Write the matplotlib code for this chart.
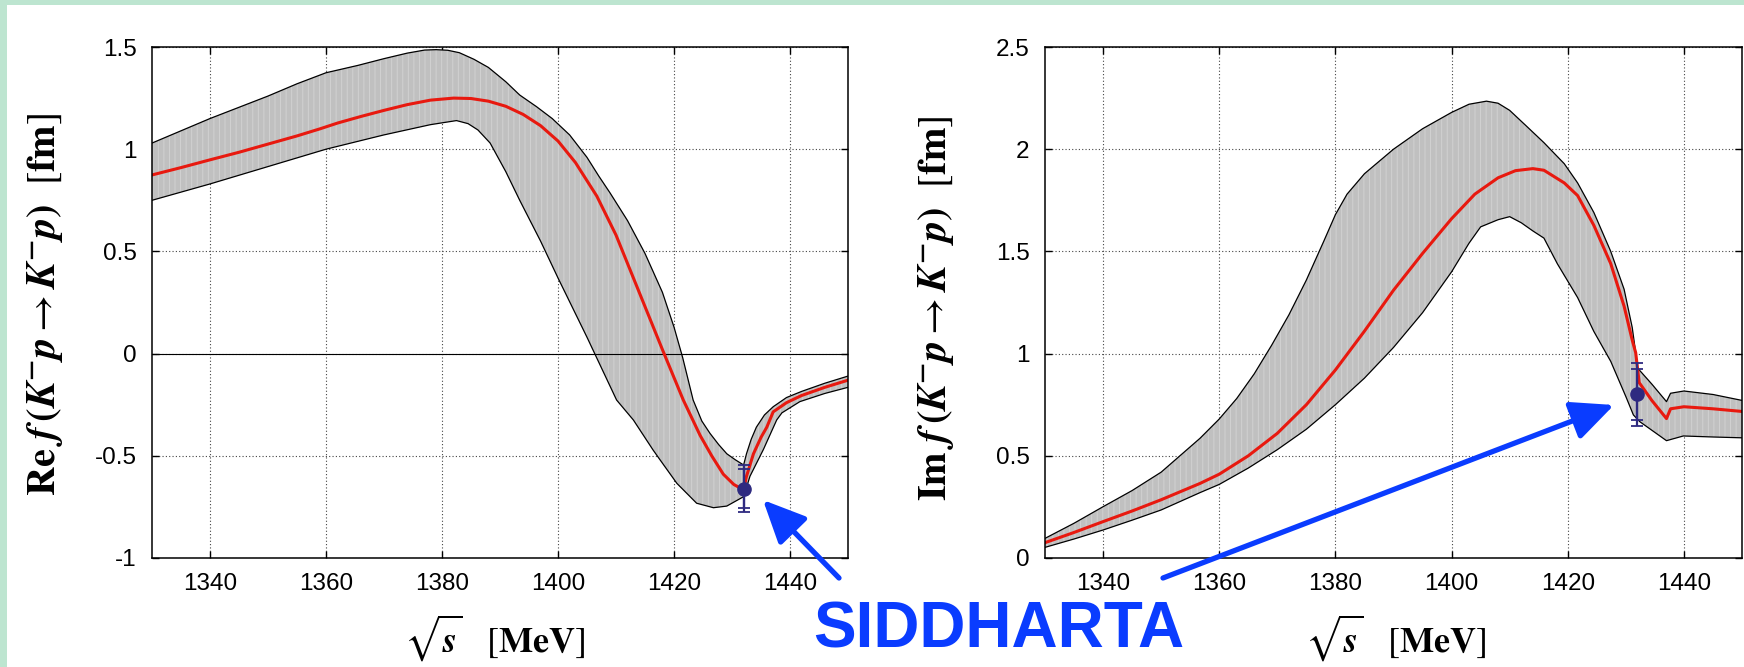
import matplotlib
matplotlib.use("Agg")
import matplotlib.pyplot as plt
from matplotlib.patches import Rectangle, FancyArrowPatch

plt.rcParams['mathtext.fontset'] = 'stix'
plt.rcParams['font.family'] = ['Liberation Sans', 'DejaVu Sans']
plt.rcParams['axes.unicode_minus'] = False
plt.rcParams['hatch.linewidth'] = 0.7

# ---------------- data: Re f ----------------
re_up_x = [1330, 1335, 1340, 1345, 1350, 1355, 1360, 1365.5, 1370, 1374, 1377, 1379, 1381, 1383,
           1385.5, 1388, 1391, 1393.4, 1396.3, 1399, 1402, 1405, 1407, 1409, 1412, 1415, 1418,
           1420, 1421.5, 1423.3, 1424.8, 1426.2, 1427.7, 1429.1, 1430.6, 1432.0, 1432.5, 1433.3,
           1434.2, 1435.6, 1437.1, 1439.4, 1442, 1446, 1450]
re_up_y = [1.03, 1.09, 1.15, 1.205, 1.26, 1.32, 1.374, 1.41, 1.443, 1.47, 1.485, 1.487, 1.484, 1.472,
           1.44, 1.40, 1.33, 1.265, 1.208, 1.15, 1.07, 0.96, 0.87, 0.785, 0.65, 0.49, 0.30,
           0.13, -0.02, -0.227, -0.33, -0.39, -0.445, -0.49, -0.52, -0.545, -0.49, -0.42,
           -0.36, -0.30, -0.26, -0.215, -0.185, -0.145, -0.11]

re_mid_x = [1330, 1335, 1340, 1345, 1350, 1355, 1359, 1362, 1366, 1370, 1374, 1378, 1382, 1385,
            1388, 1391, 1394, 1397, 1400, 1403, 1406.7, 1410, 1414, 1418, 1421.6, 1424.5, 1426.5,
            1428.5, 1430.3, 1432.0, 1432.5, 1433.7, 1435.0, 1436.0, 1437.1, 1439.4, 1442, 1446, 1450]
re_mid_y = [0.874, 0.91, 0.948, 0.985, 1.025, 1.065, 1.10, 1.128, 1.16, 1.19, 1.218, 1.24, 1.25, 1.248,
            1.235, 1.21, 1.17, 1.115, 1.04, 0.935, 0.77, 0.58, 0.30, 0.02, -0.227, -0.40, -0.50,
            -0.59, -0.64, -0.667, -0.60, -0.49, -0.41, -0.36, -0.285, -0.24, -0.205, -0.165, -0.13]

re_lo_x = [1330, 1340, 1350, 1360, 1370, 1378, 1382.5, 1384.5, 1386.2, 1388.3, 1391, 1393.4, 1397,
           1400, 1405, 1410.1, 1413.0, 1416.4, 1417.6, 1420.5, 1423.9, 1426.8, 1429.1, 1432.0,
           1433.1, 1435.4, 1437.7, 1438.6, 1441.7, 1446, 1450]
re_lo_y = [0.75, 0.83, 0.915, 1.0, 1.07, 1.12, 1.14, 1.125, 1.094, 1.03, 0.89, 0.75, 0.55,
           0.37, 0.08, -0.227, -0.325, -0.472, -0.52, -0.635, -0.732, -0.754, -0.746, -0.70,
           -0.60, -0.47, -0.325, -0.29, -0.235, -0.195, -0.165]

# ---------------- data: Im f ----------------
im_up_x = [1330, 1335, 1340, 1345, 1350, 1356.7, 1360, 1363, 1366, 1369, 1372, 1375, 1378, 1380,
           1382, 1385, 1390, 1395, 1400, 1403, 1406, 1408, 1410, 1413, 1415.9, 1419.4, 1421.7,
           1424.5, 1427.4, 1429.7, 1431.1, 1431.7, 1432.0, 1434.5, 1437.0, 1437.7, 1440, 1445, 1450]
im_up_y = [0.096, 0.17, 0.251, 0.33, 0.42, 0.586, 0.68, 0.78, 0.90, 1.04, 1.19, 1.36, 1.55, 1.68,
           1.78, 1.88, 2.0, 2.1, 2.18, 2.22, 2.235, 2.225, 2.19, 2.11, 2.032, 1.929, 1.835,
           1.69, 1.50, 1.315, 1.128, 1.004, 0.93, 0.85, 0.765, 0.806, 0.817, 0.80, 0.771]

im_mid_x = [1330, 1335, 1340, 1345, 1350, 1356.7, 1360, 1365, 1370, 1375, 1380, 1385, 1390, 1395,
            1400, 1404, 1408, 1411, 1414, 1415.9, 1419.4, 1421.7, 1424.5, 1427.4, 1429.7, 1431.1,
            1431.7, 1432.3, 1434.5, 1437.0, 1437.7, 1440, 1445, 1450]
im_mid_y = [0.075, 0.125, 0.178, 0.23, 0.285, 0.365, 0.41, 0.50, 0.61, 0.75, 0.92, 1.11, 1.31, 1.49,
            1.66, 1.78, 1.86, 1.895, 1.905, 1.897, 1.835, 1.773, 1.627, 1.44, 1.232, 1.066,
            1.004, 0.858, 0.77, 0.682, 0.73, 0.74, 0.73, 0.717]

im_lo_x = [1330, 1335, 1340, 1345, 1350, 1356.7, 1360, 1365, 1370, 1375, 1380, 1385, 1390, 1395,
           1400, 1403, 1405, 1408, 1410, 1412, 1414, 1415.9, 1418.2, 1421.7, 1424.5, 1427.4,
           1430.0, 1431.3, 1432.4, 1437.0, 1439.9, 1445, 1450]
im_lo_y = [0.052, 0.093, 0.137, 0.185, 0.235, 0.32, 0.36, 0.44, 0.53, 0.63, 0.75, 0.88, 1.03, 1.2,
           1.4, 1.54, 1.62, 1.655, 1.67, 1.64, 1.6, 1.565, 1.44, 1.274, 1.108, 0.962,
           0.79, 0.70, 0.667, 0.574, 0.597, 0.592, 0.588]

# SIDDHARTA point (energy, value, two error sizes)
pt_x = 1432.0
re_pt, re_err_a, re_err_b = -0.66, 0.114, 0.095
im_pt, im_err_a, im_err_b = 0.80, 0.152, 0.124

x_ticks = [1340, 1360, 1380, 1400, 1420, 1440]
re_ticks = [-1, -0.5, 0, 0.5, 1, 1.5]
re_tick_labels = ['-1', '-0.5', '0', '0.5', '1', '1.5']
im_ticks = [0, 0.5, 1, 1.5, 2, 2.5]
im_tick_labels = ['0', '0.5', '1', '1.5', '2', '2.5']

# ---------------- figure ----------------
W, H = 1744, 667
fig = plt.figure(figsize=(W / 100, H / 100), dpi=100)
fig.patch.set_facecolor('white')
green = '#bde5d0'
fig.patches.append(Rectangle((0, 1 - 5 / H), 1, 5 / H, transform=fig.transFigure,
                             facecolor=green, edgecolor='none', zorder=0))
fig.patches.append(Rectangle((0, 0), 7 / W, 1, transform=fig.transFigure,
                             facecolor=green, edgecolor='none', zorder=0))

ax_bottom = (H - 558) / H
ax_height = 511 / H
ax1 = fig.add_axes([152 / W, ax_bottom, 696 / W, ax_height])
ax2 = fig.add_axes([1045 / W, ax_bottom, 697 / W, ax_height])

band_col = '#c0c0c0'
stripe_col = '#d2d2d2'
red = '#e8190f'
navy = '#2e2a80'


def draw(ax, ux, uy, mx, my, lx, ly, pt, ea, eb, yticks, ylabels, ylim):
    ax.fill(ux + lx[::-1], uy + ly[::-1], facecolor=band_col, edgecolor=stripe_col,
            hatch='|||', lw=0, zorder=1)
    ax.plot(ux, uy, color='black', lw=0.9, zorder=2)
    ax.plot(lx, ly, color='black', lw=0.9, zorder=2)
    ax.plot(mx, my, color=red, lw=2.2, zorder=3)
    ax.errorbar([pt_x], [pt], yerr=[[ea], [ea]], fmt='none', ecolor=navy, elinewidth=1.6,
                capsize=4.5, capthick=1.3, zorder=4)
    ax.errorbar([pt_x], [pt], yerr=[[eb], [eb]], fmt='o', color=navy, ms=9.5, elinewidth=1.6,
                capsize=4.5, capthick=1.3, zorder=5)
    ax.set_xlim(1330, 1450)
    ax.set_ylim(*ylim)
    ax.set_xticks(x_ticks)
    ax.set_xticklabels([str(t) for t in x_ticks])
    ax.set_yticks(yticks)
    ax.set_yticklabels(ylabels)
    ax.grid(True, color='#444444', lw=0.8, linestyle=(0, (1, 2)))
    ax.set_axisbelow(True)
    ax.tick_params(direction='in', length=5, width=1, top=True, right=True,
                   labelsize=17.5, pad=11)
    for s in ax.spines.values():
        s.set_linewidth(1.1)
        s.set_zorder(6)


draw(ax1, re_up_x, re_up_y, re_mid_x, re_mid_y, re_lo_x, re_lo_y,
     re_pt, re_err_a, re_err_b, re_ticks, re_tick_labels, (-1, 1.5))
ax1.axhline(0, color='black', lw=0.8, zorder=1.5)
draw(ax2, im_up_x, im_up_y, im_mid_x, im_mid_y, im_lo_x, im_lo_y,
     im_pt, im_err_a, im_err_b, im_ticks, im_tick_labels, (0, 2.5))

# axis labels
fig.text(45 / W, 1 - 304 / H,
         r'$\mathbf{Re}\ \mathbfit{f}\,\mathbf{(}\mathbfit{K}^{\mathbf{-}}\mathbfit{p}\rightarrow\mathbfit{K}^{\mathbf{-}}\mathbfit{p}\mathbf{)}\ \ [\mathbf{fm}]$',
         rotation=90, ha='center', va='center', fontsize=29)
fig.text(936 / W, 1 - 308 / H,
         r'$\mathbf{Im}\ \mathbfit{f}\,\mathbf{(}\mathbfit{K}^{\mathbf{-}}\mathbfit{p}\rightarrow\mathbfit{K}^{\mathbf{-}}\mathbfit{p}\mathbf{)}\ \ [\mathbf{fm}]$',
         rotation=90, ha='center', va='center', fontsize=29)
for xc in (495, 1396):
    fig.text(xc / W, 1 - 638 / H, r'$\sqrt{\mathbfit{s}}\ \ \ [\mathbf{MeV}]$',
             ha='center', va='center', fontsize=26)

blue = '#0a3cff'
fig.text(999 / W, 1 - 631 / H, 'SIDDHARTA', color=blue, fontsize=46, fontweight='bold',
         ha='center', va='center', family='Liberation Sans')

for tail, tip in [((839, 578), (763, 500)), ((1163, 578), (1614, 405))]:
    arr = FancyArrowPatch((tail[0] / W, 1 - tail[1] / H), (tip[0] / W, 1 - tip[1] / H),
                          transform=fig.transFigure,
                          arrowstyle='-|>,head_length=1.3,head_width=0.6',
                          mutation_scale=20, lw=3.8, color=blue,
                          shrinkA=0, shrinkB=0, zorder=10)
    fig.patches.append(arr)

fig.savefig('out.png', dpi=100)
